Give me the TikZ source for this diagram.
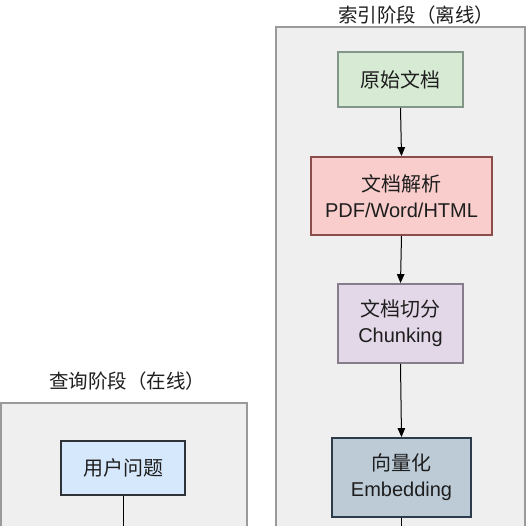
\documentclass[tikz,border=0pt]{standalone}
\usepackage{fontspec}
\setmainfont{Liberation Sans}
\newfontfamily\cjk{Noto Sans CJK SC}
\usetikzlibrary{arrows.meta}
\definecolor{panelfill}{HTML}{EFEFEF}
\definecolor{panelline}{HTML}{9A9A9A}
\definecolor{txt}{HTML}{1E1E1E}
\definecolor{gfill}{HTML}{D7EAD4}
\definecolor{gline}{HTML}{82968A}
\definecolor{rfill}{HTML}{F8CDCB}
\definecolor{rline}{HTML}{8C4C4C}
\definecolor{pfill}{HTML}{E3D8E8}
\definecolor{pline}{HTML}{867C8C}
\definecolor{efill}{HTML}{BCCBD6}
\definecolor{eline}{HTML}{2C3C4A}
\definecolor{ufill}{HTML}{D6E8FB}
\definecolor{uline}{HTML}{2E3338}
\tikzset{
  box/.style={draw, line width=1.8pt, align=center, text=txt, inner sep=0pt,
    font=\fontsize{20}{26}\selectfont},
  panel/.style={draw=panelline, fill=panelfill, line width=1.8pt},
  ptitle/.style={text=txt, font=\fontsize{19.5}{22}\selectfont\cjk, inner sep=0pt},
  flow/.style={line width=1pt, draw=black, -{Triangle[length=9pt,width=7.5pt]}},
  tail/.style={line width=1pt, draw=black}
}
\begin{document}
\begin{tikzpicture}[x=1pt,y=-1pt]
\useasboundingbox (0,0) rectangle (527,526);
\fill[white] (0,0) rectangle (527,526);
\clip (0,0) rectangle (527,526);
% panels
\draw[panel] (276,27) rectangle (525,560);
\draw[panel] (0.9,403) rectangle (247,560);
\node[ptitle] (t1) at (416,15) {索引阶段（离线）};
\node[ptitle] (t2) at (127,381) {查询阶段（在线）};
% right column
\node[box, fill=gfill, draw=gline, minimum width=125pt, minimum height=55pt] (n1) at (400.5,79.5) {\cjk 原始文档};
\node[box, fill=rfill, draw=rline, minimum width=181pt, minimum height=78pt] (n2) at (401.5,196) {{\cjk 文档解析}\\PDF/Word/HTML};
\node[box, fill=pfill, draw=pline, minimum width=125pt, minimum height=79pt] (n3) at (400.5,323.5) {{\cjk 文档切分}\\Chunking};
\node[box, fill=efill, draw=eline, minimum width=139pt, minimum height=79pt] (n4) at (401.5,477.5) {{\cjk 向量化}\\Embedding};
% left column
\node[box, fill=ufill, draw=uline, minimum width=124pt, minimum height=54pt] (u1) at (123,468) {\cjk 用户问题};
\coordinate (c1) at (401.5,545);
\coordinate (c2) at (123,545);
\draw[flow] (n1.south) -- (n2.north);
\draw[flow] (n2.south) -- (n3.north);
\draw[flow] (n3.south) -- (n4.north);
\draw[tail] (n4.south) -- (c1);
\draw[tail] (u1.south) -- (c2);
\end{tikzpicture}
\end{document}
